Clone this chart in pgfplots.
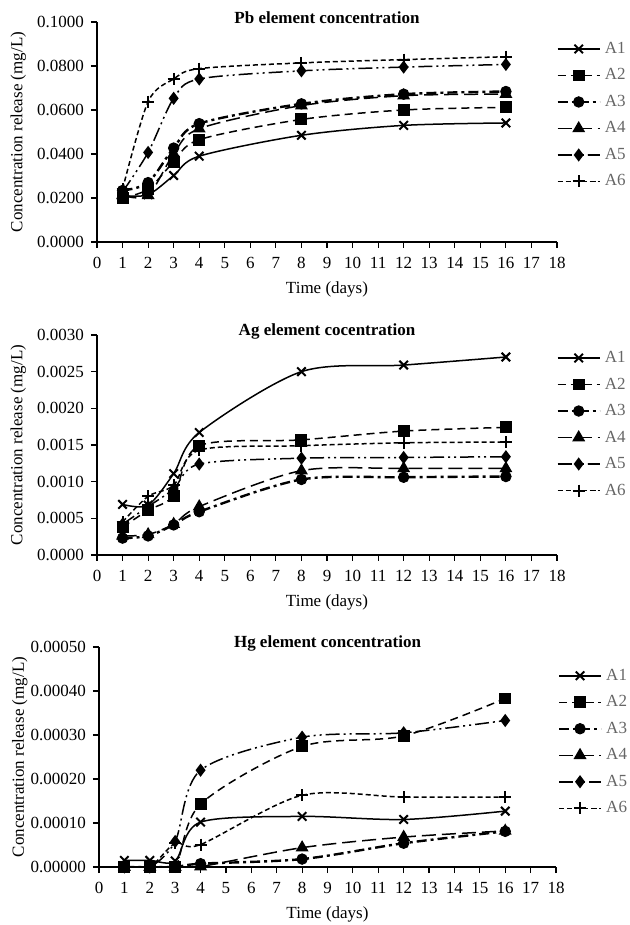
\documentclass[border=0pt]{standalone}
\usepackage{fontspec}
\setmainfont{Liberation Serif}
\usepackage{pgfplots}
\pgfplotsset{compat=1.18}
\newcommand{\fs}{\fontsize{8.5}{10}\selectfont}
\pgfplotsset{
 every axis title shift=0pt,
 panel/.style={
  scale only axis, width=230pt, height=110pt,
  xmin=0, xmax=18, xtick={0,...,18},
  axis x line*=bottom, axis y line*=left,
  tick align=outside,
  major tick length=3pt,
  every tick/.style={black, line width=0.6pt},
  axis line style={line width=0.75pt},
  ticklabel style={font=\fs},
  xticklabel style={yshift=-1pt},
  /pgf/number format/assume math mode=true,
  scaled y ticks=false,
  xlabel={Time (days)},
  ylabel={Concentration release (mg/L)},
  label style={font=\fs},
  title style={font=\bfseries\fs, at={(axis description cs:0.5,1.018)}, anchor=center},
  xlabel style={at={(axis description cs:0.5,-0.214)}, anchor=center},
  ylabel style={at={(axis description cs:-0.171,0.5)}, anchor=center},
  legend style={draw=none, fill=none, at={(axis description cs:0.985,0.936)}, anchor=north west,
    font=\fs, text=black!60, row sep=4.75pt,
    nodes={inner sep=0pt, text height=6.5pt, text depth=2pt},
    /tikz/every odd column/.append style={column sep=2pt}},
  legend cell align=left,
  legend image code/.code={\draw[mark repeat=2,mark phase=2] plot coordinates {(0pt,0pt) (10.5pt,0pt) (21pt,0pt)};},
  every axis plot/.append style={smooth, tension=0.5, black, line width=0.75pt},
 },
 sA1/.style={solid, mark=x, mark size=3pt, mark options={solid, line width=1pt}},
 sA2/.style={dash pattern=on 4pt off 2.5pt, mark=square*, mark size=2.6pt, mark options={solid}},
 sA3/.style={line width=1.2pt, dash pattern=on 5pt off 2pt on 1.5pt off 2pt, mark=*, mark size=2.6pt, mark options={solid, line width=0.5pt}},
 sA4/.style={dash pattern=on 7pt off 3pt, mark=triangle*, mark size=3pt, mark options={solid}},
 sA5/.style={dash pattern=on 7pt off 2pt on 1pt off 2pt on 1pt off 2pt, mark=diamond*, mark size=2.7pt, mark options={solid}},
 sA6/.style={dash pattern=on 2.5pt off 1.5pt, mark=+, mark size=3pt, mark options={solid, line width=1pt}},
}
\begin{document}
\begin{tikzpicture}
\useasboundingbox (0,0) rectangle (314.5pt,462.5pt);
% ---------------- Pb
\begin{axis}[panel, at={(48.5pt,341.5pt)}, anchor=south west,
  ymin=0, ymax=0.1, ytick={0,0.02,...,0.1001},
  yticklabel style={/pgf/number format/.cd, fixed, fixed zerofill, precision=4},
  title={Pb element concentration}]
\addplot[sA1] coordinates {(1,0.0211)(2,0.0215)(3,0.0302)(4,0.0390)(8,0.0485)(12,0.0530)(16,0.0541)};
\addplot[sA2] coordinates {(1,0.0200)(2,0.0240)(3,0.0364)(4,0.0465)(8,0.0557)(12,0.0600)(16,0.0612)};
\addplot[sA3] coordinates {(1,0.0234)(2,0.0270)(3,0.0427)(4,0.0538)(8,0.0628)(12,0.0672)(16,0.0684)};
\addplot[sA4] coordinates {(1,0.0212)(2,0.0212)(3,0.0400)(4,0.0515)(8,0.0620)(12,0.0665)(16,0.0672)};
\addplot[sA5] coordinates {(1,0.0228)(2,0.0407)(3,0.0653)(4,0.0741)(8,0.0778)(12,0.0795)(16,0.0807)};
\addplot[sA6] coordinates {(1,0.0240)(2,0.0638)(3,0.0741)(4,0.0788)(8,0.0814)(12,0.0829)(16,0.0842)};
\legend{A1,A2,A3,A4,A5,A6}
\end{axis}
% ---------------- Ag
\begin{axis}[panel, at={(48.5pt,185pt)}, anchor=south west,
  ymin=0, ymax=0.003, ytick={0,0.0005,0.001,0.0015,0.002,0.0025,0.003},
  yticklabel style={/pgf/number format/.cd, fixed, fixed zerofill, precision=4},
  legend style={at={(axis description cs:0.985,0.954)}},
  title={Ag element cocentration}]
\addplot[sA1] coordinates {(1,0.00069)(2,0.00068)(3,0.00111)(4,0.00167)(8,0.00250)(12,0.00259)(16,0.00270)};
\addplot[sA2] coordinates {(1,0.00038)(2,0.00061)(3,0.00081)(4,0.00149)(8,0.00157)(12,0.00169)(16,0.00174)};
\addplot[sA3] coordinates {(1,0.00023)(2,0.00026)(3,0.00041)(4,0.00059)(8,0.00103)(12,0.00106)(16,0.00107)};
\addplot[sA4] coordinates {(1,0.00026)(2,0.00028)(3,0.00042)(4,0.00066)(8,0.00115)(12,0.00118)(16,0.00118)};
\addplot[sA5] coordinates {(1,0.00042)(2,0.00066)(3,0.00090)(4,0.00124)(8,0.00132)(12,0.00133)(16,0.00134)};
\addplot[sA6] coordinates {(1,0.00045)(2,0.00080)(3,0.00095)(4,0.00143)(8,0.00149)(12,0.00153)(16,0.00154)};
\legend{A1,A2,A3,A4,A5,A6}
\end{axis}
% ---------------- Hg
\begin{axis}[panel, at={(49.5pt,29pt)}, anchor=south west, width=228.5pt,
  ymin=0, ymax=0.0005, ytick={0,0.0001,0.0002,0.0003,0.0004,0.0005},
  yticklabel style={/pgf/number format/.cd, fixed, fixed zerofill, precision=5},
  ylabel style={at={(axis description cs:-0.173,0.5)}},
  legend style={at={(axis description cs:0.99,0.928)}},
  title={Hg element concentration}]
\addplot[sA1] coordinates {(1,0.000015)(2,0.000015)(3,0.000014)(4,0.000102)(8,0.000115)(12,0.000108)(16,0.000127)};
\addplot[sA2] coordinates {(1,0)(2,0)(3,0)(4,0.000143)(8,0.000274)(12,0.000298)(16,0.000383)};
\addplot[sA3] coordinates {(1,0)(2,0)(3,0)(4,0.0000075)(8,0.000018)(12,0.000054)(16,0.000081)};
\addplot[sA4] coordinates {(1,0)(2,0)(3,0)(4,0.000001)(8,0.000044)(12,0.000068)(16,0.000082)};
\addplot[sA5] coordinates {(1,0)(2,0)(3,0.000058)(4,0.000220)(8,0.000295)(12,0.000305)(16,0.000333)};
\addplot[sA6] coordinates {(1,0)(2,0)(3,0.000054)(4,0.000051)(8,0.000163)(12,0.000159)(16,0.000159)};
\legend{A1,A2,A3,A4,A5,A6}
\end{axis}
\end{tikzpicture}
\end{document}
